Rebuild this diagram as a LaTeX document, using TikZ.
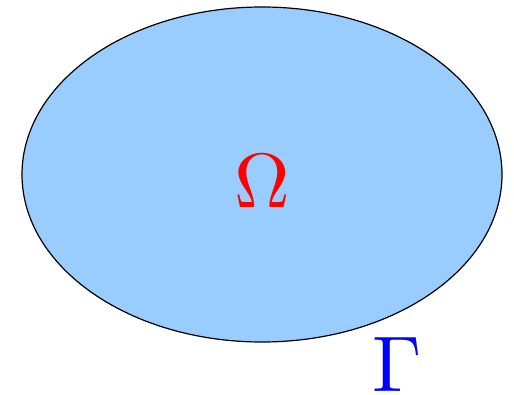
\documentclass[tikz,border=0pt]{standalone}
\usepackage{graphicx}
\usetikzlibrary{shapes.geometric}
\definecolor{fillblue}{HTML}{99CCFF}
\tikzset{
  regionbox/.style={draw=black, line width=1.2pt, fill=fillblue},
  biglabel/.style={inner sep=0pt}
}
\begin{document}
\begin{tikzpicture}[x=1pt,y=1pt]
\useasboundingbox (0,0) rectangle (514,-395);
\node[regionbox, ellipse, minimum width=480pt, minimum height=335pt, inner sep=0pt] (omegaregion) at (262,-174.5) {};
\node[biglabel, text=red] (omega) at (262,-181) {\scalebox{7.7}{$\Omega$}};
\node[biglabel, text=blue] (gamma) at (397,-365) {\scalebox{7.9}{$\Gamma$}};
\end{tikzpicture}
\end{document}
